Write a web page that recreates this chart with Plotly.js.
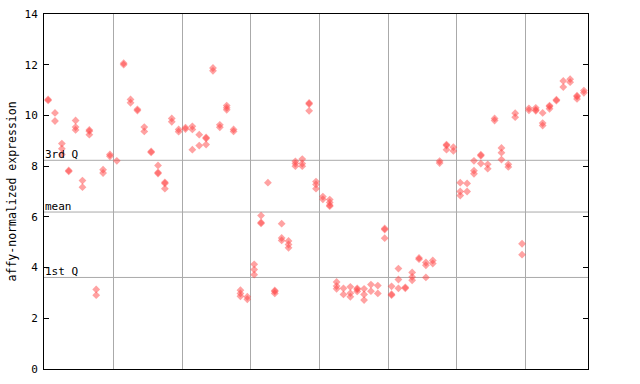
<!DOCTYPE html>
<html>
<head>
<meta charset="utf-8">
<script src="https://cdn.plot.ly/plotly-3.0.1.min.js"></script>
<style>html,body{margin:0;padding:0;background:#fff;}#chart{width:640px;height:384px;}</style>
</head>
<body>
<div id="chart"></div>
<script>
// sample index (0-based, left to right) of each measured point
const sampleIndex = [
  0,0, 1,1, 2,2,2, 3,3, 4,4,4, 5,5, 6,6,6, 7,7, 8,8, 9,9,
  10, 11,11, 12,12, 13,13, 14,14, 15,15, 16,16,16, 17,17,17, 18,18, 19,19,
  20,20, 21,21,21, 22,22, 23,23,23, 24,24, 25,25, 26,26,26, 27,27, 28,28,28, 29,29,
  30,30,30, 31,31,31, 32, 33,33,33, 34,34,34, 35,35,35, 36,36,36, 37,37,37, 38,38,38, 39,39,39,
  40,40, 41,41,41,41, 42,42,42, 43,43, 44,44,44, 45,45,45, 46,46,46, 47,47, 48,48, 49,49,49,
  50,50,50, 51,51,51, 52,52, 53,53,53, 54,54, 55,55,55, 56,56, 57,57, 58,58,58, 59,59,
  60,60,60, 61,61, 62,62,62, 63,63,63, 64,64, 65,65, 66,66,66, 67,67, 68,68, 69,69,
  70,70, 71,71,71, 72,72,72, 73,73,73, 74,74, 75,75, 76,76, 77,77,77, 78,78
];
// affy-normalized expression of each point
const expression = [
  10.63,10.59, 10.10,9.78, 8.89,8.69,8.46, 7.83,7.79, 9.80,9.54,9.43, 7.43,7.17, 9.43,9.38,9.24, 3.14,2.91, 7.86,7.73, 8.46,8.39,
  8.21, 12.06,12.00, 10.63,10.50, 10.24,10.19, 9.54,9.37, 8.58,8.54, 8.03,7.75,7.71, 7.36,7.32,7.11, 9.88,9.75, 9.45,9.36,
  9.52,9.46, 9.57,9.45,8.65, 9.24,8.81, 9.13,9.09,8.85, 11.87,11.76, 9.63,9.53, 10.39,10.30,10.22, 9.45,9.37, 3.11,2.98,2.87, 2.85,2.75,
  4.13,3.92,3.72, 6.05,5.78,5.74, 7.35, 3.10,3.06,2.98, 5.73,5.17,5.07, 5.05,4.91,4.78, 8.19,8.10,8.00, 8.28,8.10,8.00, 10.49,10.45,10.18, 7.39,7.28,7.11,
  6.80,6.69, 6.68,6.57,6.46,6.42, 3.43,3.27,3.16, 3.18,2.94, 3.24,2.99,2.85, 3.18,3.14,3.06, 3.16,2.94,2.72, 3.33,3.07, 3.29,2.98, 5.54,5.50,5.16,
  3.26,2.95,2.91, 3.96,3.53,3.18, 3.22,3.18, 3.81,3.63,3.50, 4.38,4.33, 4.20,4.09,3.61, 4.28,4.16, 8.20,8.12, 8.85,8.81,8.65, 8.75,8.60,
  7.35,7.00,6.84, 7.32,7.00, 8.21,7.82,7.70, 8.45,8.41,8.10, 8.07,7.90, 9.88,9.80, 8.72,8.53,8.26, 8.07,7.97, 10.09,9.93, 4.94,4.51,
  10.28,10.20, 10.30,10.22,10.18, 10.10,9.70,9.60, 10.39,10.35,10.26, 10.62,10.58, 11.36,11.12, 11.43,11.31, 10.78,10.74,10.65, 10.98,10.89
];
// reference lines
const refValues = [8.23, 6.19, 3.61];
const refLabels = ['3rd Q', 'mean', '1st Q'];
// group separators on the x axis
const groupBounds = [9.5, 19.5, 29.5, 39.5, 49.5, 59.5, 69.5];
const yTicks = [0, 2, 4, 6, 8, 10, 12, 14];
const yTitle = 'affy-normalized expression';

const mono = 'DejaVu Sans Mono, monospace';

const trace = {
  type: 'scatter',
  mode: 'markers',
  x: sampleIndex,
  y: expression,
  marker: {symbol: 'diamond', size: 6, color: 'rgba(255,70,70,0.5)', line: {width: 0}},
  hoverinfo: 'x+y'
};

const shapes = refValues.map(v => ({
  type: 'line', xref: 'paper', x0: 0, x1: 1, yref: 'y', y0: v, y1: v,
  line: {color: '#aaaaaa', width: 1}, layer: 'below'
}));
const annotations = refValues.map((v, i) => ({
  xref: 'paper', x: 0, xanchor: 'left', yref: 'y', y: v, yanchor: 'bottom',
  text: refLabels[i], showarrow: false, yshift: -3, xshift: -1,
  font: {family: mono, size: 11, color: '#000'}
}));
annotations.push({
  xref: 'paper', yref: 'paper', x: -0.059, y: 0.5, xanchor: 'center', yanchor: 'middle',
  text: yTitle, textangle: -90, showarrow: false,
  font: {family: mono, size: 11.5, color: '#000'}
});

const layout = {
  width: 640, height: 384,
  margin: {l: 44, r: 52, t: 14, b: 15, pad: 0},
  paper_bgcolor: '#fff', plot_bgcolor: '#fff',
  showlegend: false,
  font: {family: mono, size: 11, color: '#000'},
  xaxis: {
    range: [-0.6, 78.6], tickvals: groupBounds, showticklabels: false, ticks: '',
    showgrid: true, gridcolor: '#aaaaaa', gridwidth: 1, zeroline: false,
    showline: true, linecolor: '#000', linewidth: 1, mirror: true
  },
  yaxis: {
    range: [0, 14], tickvals: yTicks, ticktext: yTicks.map(String),
    ticks: 'inside', ticklen: 5, tickcolor: '#000', mirror: 'ticks',
    showgrid: false, zeroline: false, showline: true, linecolor: '#000', linewidth: 1,
    ticklabelstandoff: 3,
    tickfont: {family: mono, size: 11, color: '#000'}
  },
  shapes: shapes,
  annotations: annotations
};

Plotly.newPlot('chart', [trace], layout, {staticPlot: true, displayModeBar: false});
</script>
</body>
</html>
